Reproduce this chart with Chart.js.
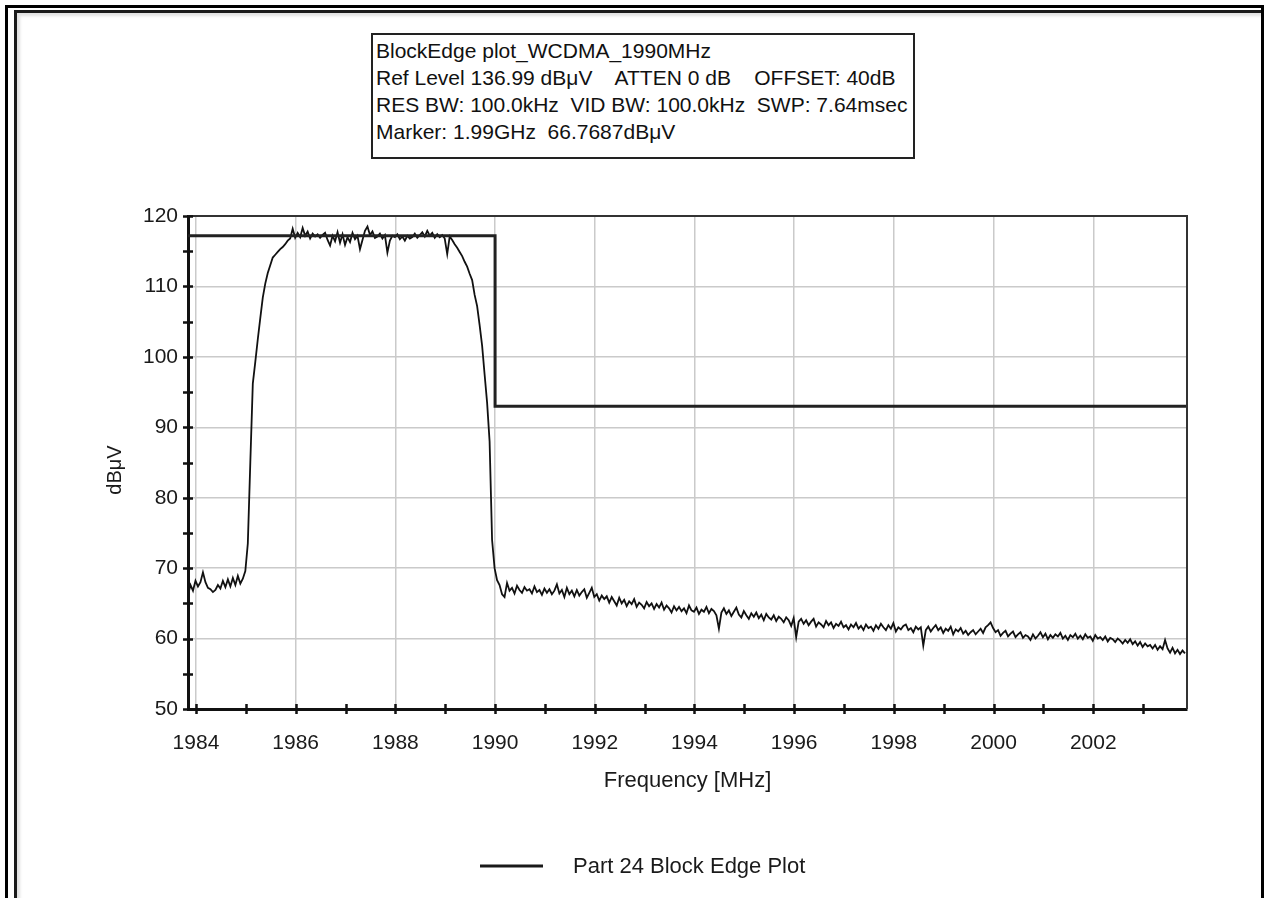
<!DOCTYPE html>
<html>
<head>
<meta charset="utf-8">
<title>Part 24 Block Edge Plot</title>
<script src="https://cdn.jsdelivr.net/npm/chart.js@4.4.1/dist/chart.umd.min.js"></script>
<style>
  html, body { margin: 0; padding: 0; background: #fff; width: 1268px; height: 898px; overflow: hidden; }
  #outer { position: absolute; left: 5px; top: 5px; width: 1253px; height: 900px;
           border-top: 3px solid #000; border-left: 3px solid #000; border-right: 3px solid #000; }
  #inner { position: absolute; left: 14px; top: 10px; width: 1244px; height: 900px;
           border-top: 3px solid #1a1a1a; border-left: 3px solid #1a1a1a;
           box-shadow: inset 3px 3px 3px rgba(0,0,0,0.12); }
  #c { position: absolute; left: 0; top: 0; }
  #info { position: absolute; left: 371px; top: 33px; width: 537px; height: 120px;
          border: 2px solid #222; background: #fff;
          font-family: "Liberation Sans", Arial, sans-serif; font-size: 21px; line-height: 27px;
          color: #111; padding: 2px 0 0 3px; white-space: pre; box-sizing: content-box; }
</style>
</head>
<body>
<div id="outer"></div>
<div id="inner"></div>
<canvas id="c" width="1268" height="898"></canvas>
<div id="info">BlockEdge plot_WCDMA_1990MHz
Ref Level 136.99 dBμV    ATTEN 0 dB    OFFSET: 40dB
RES BW: 100.0kHz  VID BW: 100.0kHz  SWP: 7.64msec
Marker: 1.99GHz  66.7687dBμV</div>
<script>
// Sweep grid (MHz)
const sweepStart = 1983.84;
const sweepStep = 0.05;
const freqMin = 1983.84;
const freqMax = 2003.88;

// Measured level (dBμV), sweep order
const levelsBelow = [66.2, 67.6, 66.8, 68.2, 67.4, 68.0, 69.4, 68.0, 67.2, 67.0,
  66.6, 66.9, 67.6, 67.1, 68.2, 67.3, 68.4, 67.4, 68.6, 67.6, 68.9, 67.8, 68.5, 69.6];
const levelsRise = [73.5, 85.0, 96.2, 99.3, 102.5, 105.5, 108.4, 110.4, 111.9, 113.0,
  114.1, 114.5, 114.9, 115.3, 115.6, 116.0, 116.5, 116.8];
const levelsChannel = [
  118.2, 116.9, 117.6, 117.0, 118.3, 117.2, 117.8, 116.8, 117.5, 117.1,
  117.4, 116.9, 117.3, 117.6, 116.6, 115.8, 117.2, 116.4, 117.7, 116.2,
  117.4, 115.9, 117.0, 116.3, 117.6, 116.7, 117.2, 115.3, 116.6, 117.9,
  118.5, 117.3, 117.8, 116.9, 117.1, 117.5, 116.8, 117.3, 114.8, 116.5,
  117.2, 117.0, 117.4, 116.7, 117.1, 116.5, 117.2, 116.8, 117.0, 117.5,
  116.9, 117.3, 117.7, 117.1, 117.9, 117.2, 117.6, 116.9, 117.4, 117.0,
  117.3, 116.8, 114.6, 117.1];
const levelsFall = [116.6, 116.0, 115.5, 114.9, 114.3, 113.5, 112.8, 111.8, 110.9, 108.8,
  107.2, 104.5, 101.6, 97.5, 93.5, 88.0, 74.0, 70.0, 68.3, 67.6, 66.3];
const levelsAbove = [
  65.9, 67.9, 66.8, 67.2, 66.4, 67.5, 66.9, 66.5, 67.3, 66.8,
  67.0, 66.4, 67.4, 66.6, 66.9, 66.2, 67.1, 66.5, 67.0, 66.3,
  66.8, 67.7, 66.4, 66.9, 65.9, 67.2, 66.3, 66.8, 66.0, 66.9,
  66.1, 66.6, 67.0, 65.8, 66.5, 67.2, 65.9, 66.3, 65.4, 66.1,
  65.6, 66.0, 65.1, 65.9, 65.3, 64.7, 65.8, 65.0, 65.5, 64.6,
  65.3, 64.9, 65.6, 64.5, 65.1, 64.8, 64.3, 65.2, 64.6, 65.0,
  64.2, 64.9, 64.4, 65.1, 64.1, 64.7, 64.3, 63.7, 64.6, 64.0,
  64.5, 63.9, 64.3, 63.6, 64.7, 64.0, 63.8, 64.4, 63.5, 64.1,
  63.8, 64.5, 63.6, 64.2, 63.9, 63.3, 61.4, 63.7, 64.3, 63.5,
  64.0, 63.2, 63.8, 64.4, 63.4, 63.0, 63.9, 63.3, 62.8, 63.6,
  63.1, 63.7, 62.9, 63.4, 62.6, 63.5, 63.0, 62.7, 63.3, 62.5,
  63.1, 62.8, 62.3, 63.0, 62.6, 61.8, 62.9, 60.2, 62.4, 62.8,
  62.1, 62.6, 61.9, 62.4, 62.8, 61.7, 62.3, 62.0, 61.6, 62.5,
  61.9, 62.3, 61.5, 62.1, 61.8, 62.4, 61.6, 61.9, 61.3, 62.0,
  61.6, 62.2, 61.4, 61.8, 61.2, 62.0, 61.5, 61.7, 61.1, 61.9,
  61.4, 62.1, 61.6, 61.2, 61.9, 61.4, 62.2, 61.0, 61.6, 61.3,
  61.8, 62.0, 61.2, 61.5, 60.9, 61.7, 61.3, 61.6, 59.0, 61.2,
  61.7, 61.0, 61.5, 61.9, 61.2, 61.6, 60.8, 61.4, 61.1, 61.7,
  60.6, 61.3, 61.0, 61.5, 60.7, 61.1, 60.5, 60.9, 61.2, 60.6,
  61.0, 61.4, 60.8, 61.6, 61.9, 62.3, 61.5, 60.9, 61.2, 60.4,
  60.8, 61.1, 60.3, 60.7, 61.0, 60.2, 60.6, 60.9, 60.1, 60.5,
  60.3, 59.8, 60.6, 60.0, 60.4, 60.9, 60.2, 60.7, 59.9, 60.5,
  60.1, 60.6, 60.3, 60.8, 60.0, 60.4, 59.8, 60.5, 60.2, 60.7,
  60.0, 60.4, 59.9, 60.6, 60.1, 60.3, 59.7, 60.5, 60.0, 60.2,
  59.8, 60.3, 59.6, 60.1, 59.9, 59.5, 60.0, 59.7, 59.3, 59.8,
  59.4, 59.9, 59.2, 59.6, 59.0, 59.5, 58.8, 59.3, 58.9, 59.1,
  58.6, 59.1, 58.4, 58.9, 58.5, 59.8, 58.6, 58.0, 58.7, 57.9,
  58.4, 57.8, 58.3, 57.9];

// Block edge limit (step at the band edge)
const limitFreqs = [1983.84, 1990.0, 1990.0, 2003.88];
const limitLevels = [117.2, 117.2, 93.0, 93.0];

// Axis ticks
const freqTicks = [1984, 1985, 1986, 1987, 1988, 1989, 1990, 1991, 1992, 1993,
  1994, 1995, 1996, 1997, 1998, 1999, 2000, 2001, 2002, 2003];
const levelMin = 50, levelMax = 120, levelStep = 5;

const seriesLabel = 'Part 24 Block Edge Plot';
const levelTitle = 'dBμV';
const FONT = '"Liberation Sans", Arial, sans-serif';
const INK = '#1a1a1a';

const levels = [].concat(levelsBelow, levelsRise, levelsChannel, levelsFall, levelsAbove);
const tracePoints = levels.map((v, i) => ({ x: +(sweepStart + i * sweepStep).toFixed(2), y: v }));
const limitPoints = limitFreqs.map((f, i) => ({ x: f, y: limitLevels[i] }));

Chart.defaults.color = INK;
Chart.defaults.font.family = FONT;

// Plot frame (top/right), crossing tick marks, level title and the legend line
const framePlugin = {
  id: 'frame',
  afterDatasetsDraw(chart) {
    const { ctx, chartArea: a, scales } = chart;
    ctx.save();
    ctx.strokeStyle = '#333';
    ctx.lineWidth = 2;
    ctx.beginPath();
    ctx.moveTo(a.left, a.top);
    ctx.lineTo(a.right, a.top);
    ctx.lineTo(a.right, a.bottom);
    ctx.stroke();

    ctx.strokeStyle = '#111';
    ctx.lineWidth = 2.5;
    ctx.beginPath();
    scales.y.ticks.forEach(t => {
      const y = Math.round(scales.y.getPixelForValue(t.value)) + 0.5;
      ctx.moveTo(a.left - 5, y);
      ctx.lineTo(a.left + 5, y);
    });
    scales.x.ticks.forEach(t => {
      const x = Math.round(scales.x.getPixelForValue(t.value)) + 0.5;
      ctx.moveTo(x, a.bottom - 5);
      ctx.lineTo(x, a.bottom + 5);
    });
    ctx.stroke();
    ctx.restore();
  },
  afterDraw(chart) {
    const { ctx } = chart;
    const ds = chart.data.datasets[0];
    ctx.save();
    // level axis title
    ctx.fillStyle = INK;
    ctx.font = '20px ' + FONT;
    ctx.textAlign = 'center';
    ctx.textBaseline = 'middle';
    ctx.translate(115, 470);
    ctx.rotate(-Math.PI / 2);
    ctx.fillText(levelTitle, 0, 0);
    ctx.restore();

    ctx.save();
    ctx.strokeStyle = INK;
    ctx.lineWidth = 3;
    ctx.beginPath();
    ctx.moveTo(480, 866);
    ctx.lineTo(543, 866);
    ctx.stroke();
    ctx.fillStyle = INK;
    ctx.font = '22px ' + FONT;
    ctx.textBaseline = 'middle';
    ctx.textAlign = 'left';
    ctx.fillText(ds.label, 573, 867);
    ctx.restore();
  }
};

new Chart(document.getElementById('c'), {
  type: 'scatter',
  data: {
    datasets: [
      {
        label: seriesLabel,
        data: tracePoints,
        showLine: true,
        borderColor: '#111',
        borderWidth: 1.8,
        pointRadius: 0,
        tension: 0,
        order: 2
      },
      {
        label: 'limit',
        data: limitPoints,
        showLine: true,
        borderColor: '#222',
        borderWidth: 3,
        pointRadius: 0,
        tension: 0,
        order: 1
      }
    ]
  },
  options: {
    responsive: false,
    animation: false,
    events: [],
    layout: { padding: { top: 216, right: 81, bottom: 104, left: 0 } },
    plugins: {
      legend: { display: false },
      tooltip: { enabled: false },
      title: { display: false }
    },
    scales: {
      x: {
        type: 'linear',
        min: freqMin,
        max: freqMax,
        afterBuildTicks(scale) { scale.ticks = freqTicks.map(v => ({ value: v })); },
        afterFit(scale) { scale.height = 85; },
        ticks: {
          autoSkip: false,
          maxRotation: 0,
          padding: 22,
          font: { size: 21 },
          color: INK,
          callback: v => (v % 2 === 0 ? String(v) : '')
        },
        grid: {
          drawTicks: false,
          lineWidth: 1.5,
          color: ctx => (ctx.tick && ctx.tick.value % 2 === 0 ? '#cacaca' : 'rgba(0,0,0,0)')
        },
        border: { display: true, color: '#111', width: 3 },
        title: {
          display: true,
          text: 'Frequency [MHz]',
          font: { size: 22 },
          color: INK,
          padding: { top: 0, bottom: 0 }
        }
      },
      y: {
        type: 'linear',
        min: levelMin,
        max: levelMax,
        afterFit(scale) { scale.width = 188; },
        ticks: {
          stepSize: levelStep,
          autoSkip: false,
          padding: 10,
          font: { size: 21 },
          color: INK,
          callback: v => (v % 10 === 0 ? String(v) : '')
        },
        grid: {
          drawTicks: false,
          lineWidth: 1.5,
          color: ctx => (ctx.tick && ctx.tick.value % 10 === 0 ? '#cacaca' : 'rgba(0,0,0,0)')
        },
        border: { display: true, color: '#111', width: 3 },
        title: { display: false }
      }
    }
  },
  plugins: [framePlugin]
});
</script>
</body>
</html>
